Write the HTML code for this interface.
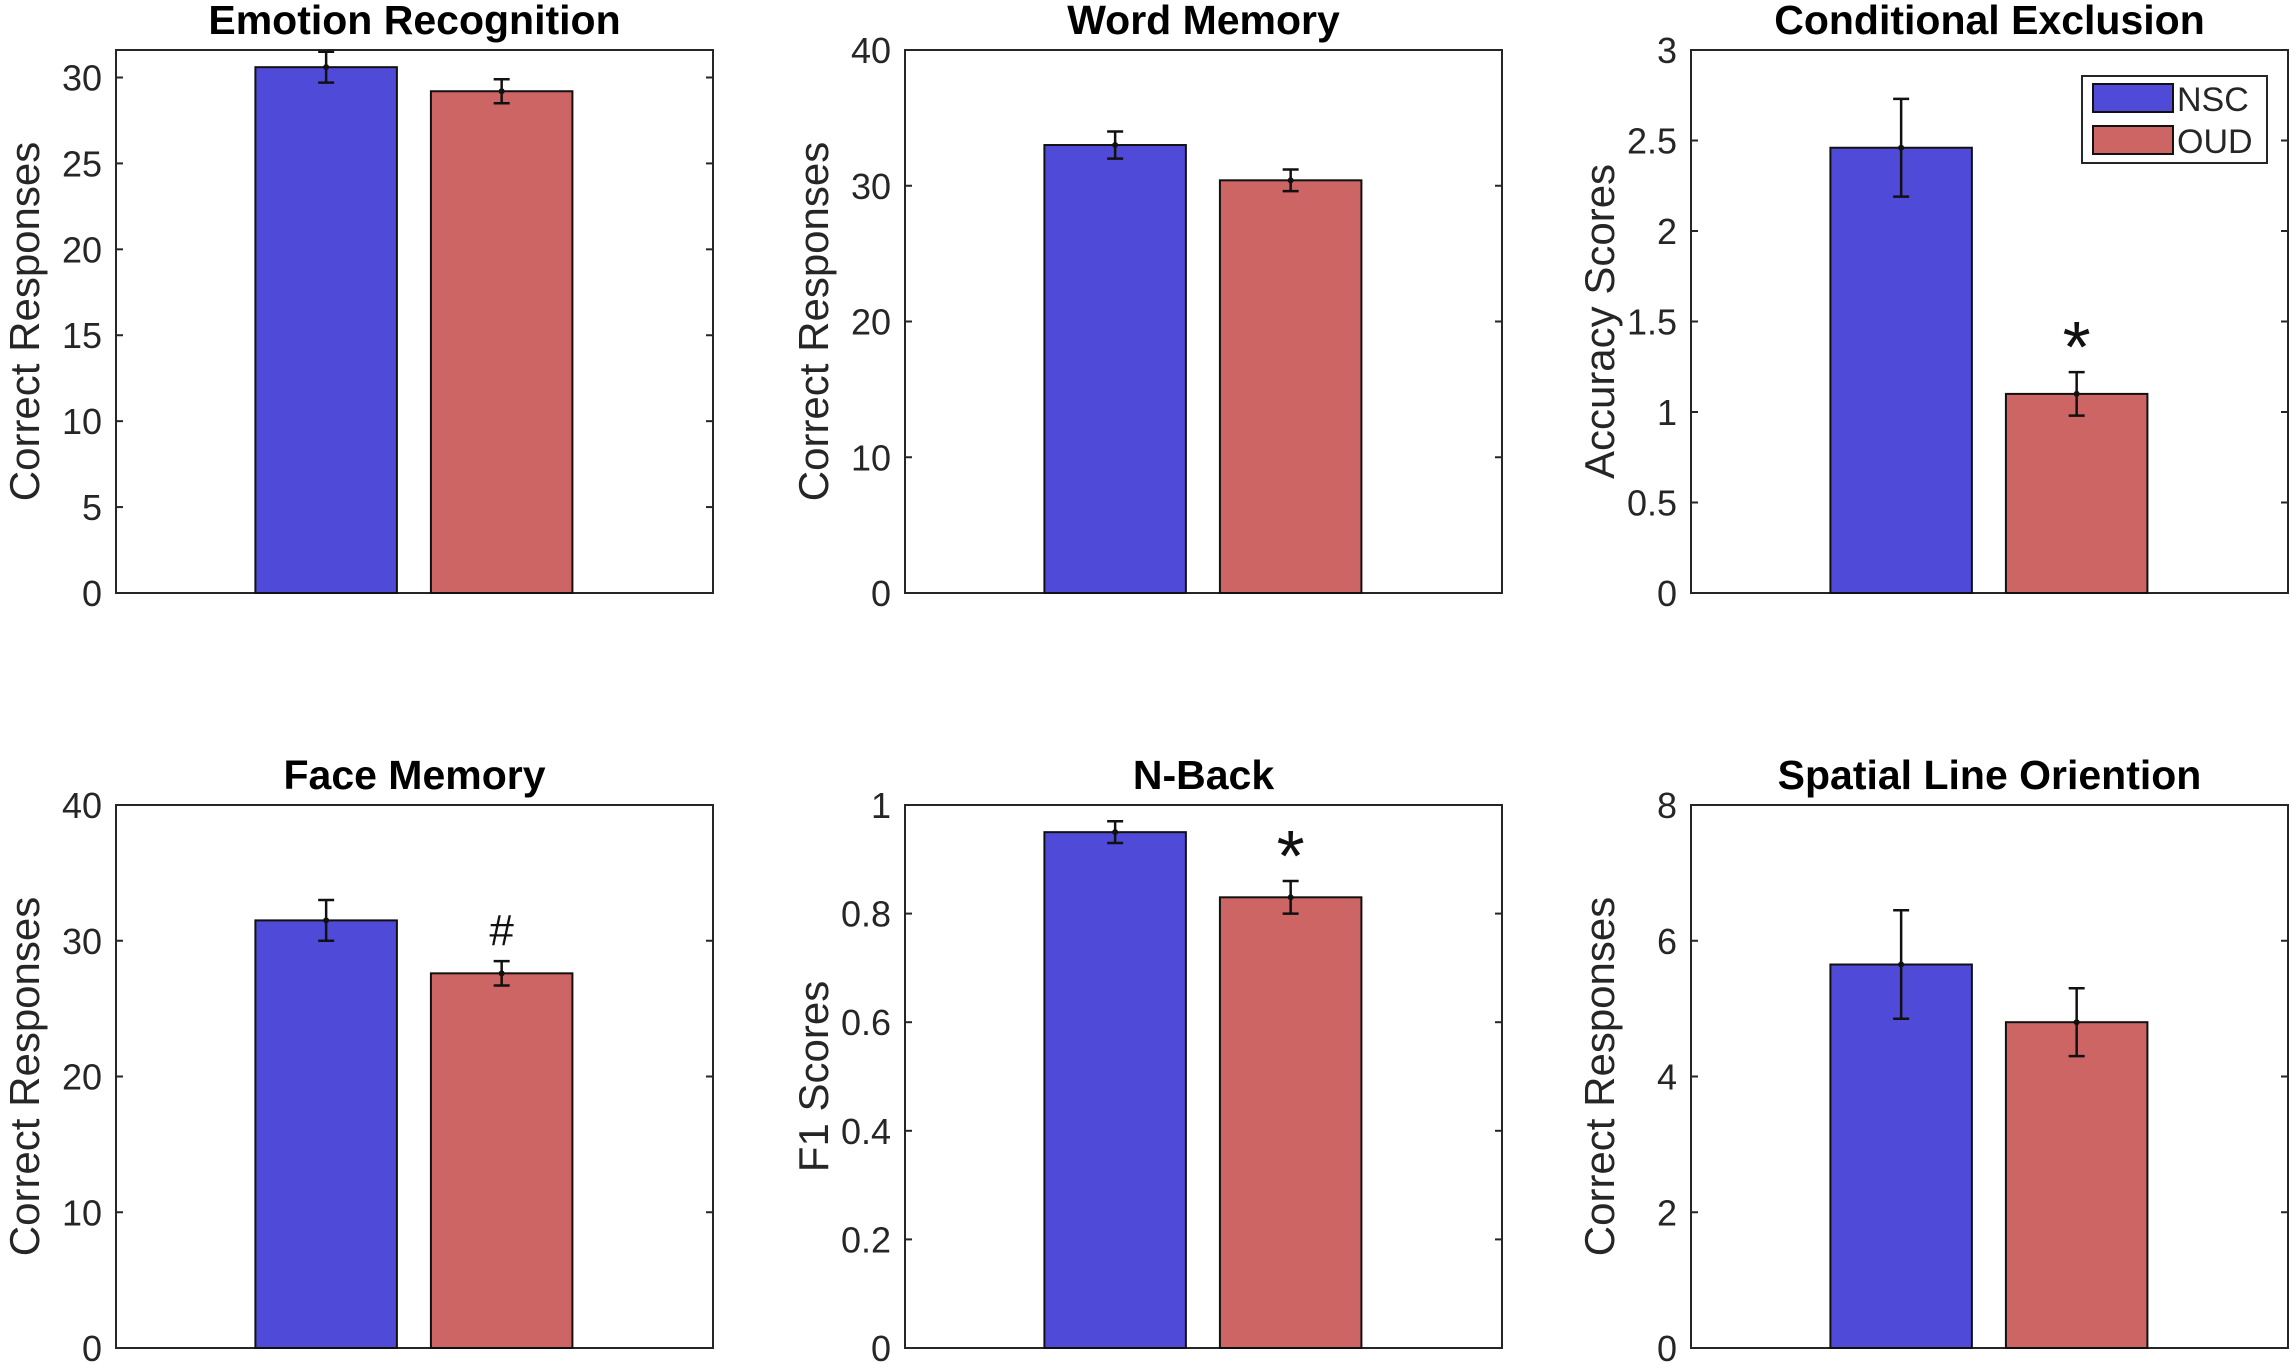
<!DOCTYPE html>
<html><head><meta charset="utf-8"><style>
html,body{margin:0;padding:0;background:#fff}
svg{display:block;font-family:"Liberation Sans",Arial,sans-serif}
</style></head><body>
<svg id="fig" width="2296" height="1368" viewBox="0 0 2296 1368" xmlns="http://www.w3.org/2000/svg"></svg>
<script>
const titles=["Emotion Recognition","Word Memory","Conditional Exclusion","Face Memory","N-Back","Spatial Line Oriention"];
const yLabels=["Correct Responses","Correct Responses","Accuracy Scores","Correct Responses","F1 Scores","Correct Responses"];
const yMax=[31.6,40,3,40,1,8];
const tickLabels=[["0","5","10","15","20","25","30"],["0","10","20","30","40"],["0","0.5","1","1.5","2","2.5","3"],["0","10","20","30","40"],["0","0.2","0.4","0.6","0.8","1"],["0","2","4","6","8"]];
const nscValues=[30.6,33.0,2.46,31.5,0.95,5.65];
const nscErrors=[0.9,1.0,0.27,1.5,0.02,0.8];
const oudValues=[29.2,30.4,1.1,27.6,0.83,4.8];
const oudErrors=[0.7,0.8,0.12,0.9,0.03,0.5];
const marks=["","","*","#","*",""];
const groups=["NSC","OUD"];
const colors=["#4f4bd8","#cd6565"];

const NS="http://www.w3.org/2000/svg";
const svg=document.getElementById('fig');
function mk(tag,attrs,parent){const e=document.createElementNS(NS,tag);for(const k in attrs)e.setAttribute(k,attrs[k]);(parent||svg).appendChild(e);return e;}
const colX=[116,905,1691],axW=597,rowY=[50,805],axH=543;

for(let i=0;i<6;i++){
  const L=colX[i%3],T=rowY[Math.floor(i/3)],B=T+axH,R=L+axW;
  const g=mk('g',{});
  
  
  const yS=v=>B-v/yMax[i]*axH;
  const xS=p=>L+p*axW;
  mk('rect',{x:L,y:T,width:axW,height:axH,fill:'#fff',stroke:'#262626','stroke-width':2},g);
  tickLabels[i].forEach(t=>{
    const y=yS(parseFloat(t));
    mk('line',{x1:L,x2:L+7,y1:y,y2:y,stroke:'#262626','stroke-width':2},g);
    mk('line',{x1:R,x2:R-7,y1:y,y2:y,stroke:'#262626','stroke-width':2},g);
    const tx=mk('text',{x:L-14,y:y+13,'text-anchor':'end','font-size':36,fill:'#262626'},g);
    tx.textContent=t;
    
    
  });
  const vals=[nscValues[i],oudValues[i]],errs=[nscErrors[i],oudErrors[i]];
  const centers=[0.352,0.646],bw=0.237*axW;
  vals.forEach((v,j)=>{
    const cx=xS(centers[j]);
    const r=mk('rect',{x:cx-bw/2,y:yS(v),width:bw,height:B-yS(v),fill:colors[j],stroke:'#111','stroke-width':2},g);
    
    
    const y1=Math.max(T,yS(v+errs[j])),y2=yS(v-errs[j]);
    const eb=mk('g',{stroke:'#111','stroke-width':2.5},g);
    
    
    mk('line',{x1:cx,x2:cx,y1:y1,y2:y2},eb);
    if(yS(v+errs[j])>=T) mk('line',{x1:cx-8,x2:cx+8,y1:y1,y2:y1},eb);
    mk('line',{x1:cx-8,x2:cx+8,y1:y2,y2:y2},eb);
    mk('circle',{cx:cx,cy:yS(v),r:3,fill:'#111',stroke:'none'},eb);
  });
  if(marks[i]){
    const cx=xS(centers[1]);
    const m=mk('text',{x:cx,y:yS(oudValues[i]+oudErrors[i])-(marks[i]==='*'?0:16),'text-anchor':'middle','font-size':marks[i]==='*'?72:44,fill:'#111'},g);
    m.textContent=marks[i];
    
    
  }
  const tt=mk('text',{x:L+axW/2,y:T-16,'text-anchor':'middle','font-size':41,'font-weight':'bold',fill:'#000'},g);
  tt.textContent=titles[i];
  
  
  const yl=mk('text',{x:0,y:0,'text-anchor':'middle','font-size':42,fill:'#262626',transform:`translate(${L-77},${T+axH/2}) rotate(-90)`},g);
  yl.textContent=yLabels[i];
  
  
}
const lg=mk('g',{});


mk('rect',{x:2082,y:76,width:185,height:87,fill:'#fff',stroke:'#262626','stroke-width':2},lg);
groups.forEach((n,j)=>{
  const e=mk('g',{},lg);
  
  
  mk('rect',{x:2093,y:84+j*42,width:80,height:28,fill:colors[j],stroke:'#111','stroke-width':2},e);
  const t=mk('text',{x:2177,y:111+j*42,'font-size':34,fill:'#262626'},e);
  t.textContent=n;
});
</script>
</body></html>
